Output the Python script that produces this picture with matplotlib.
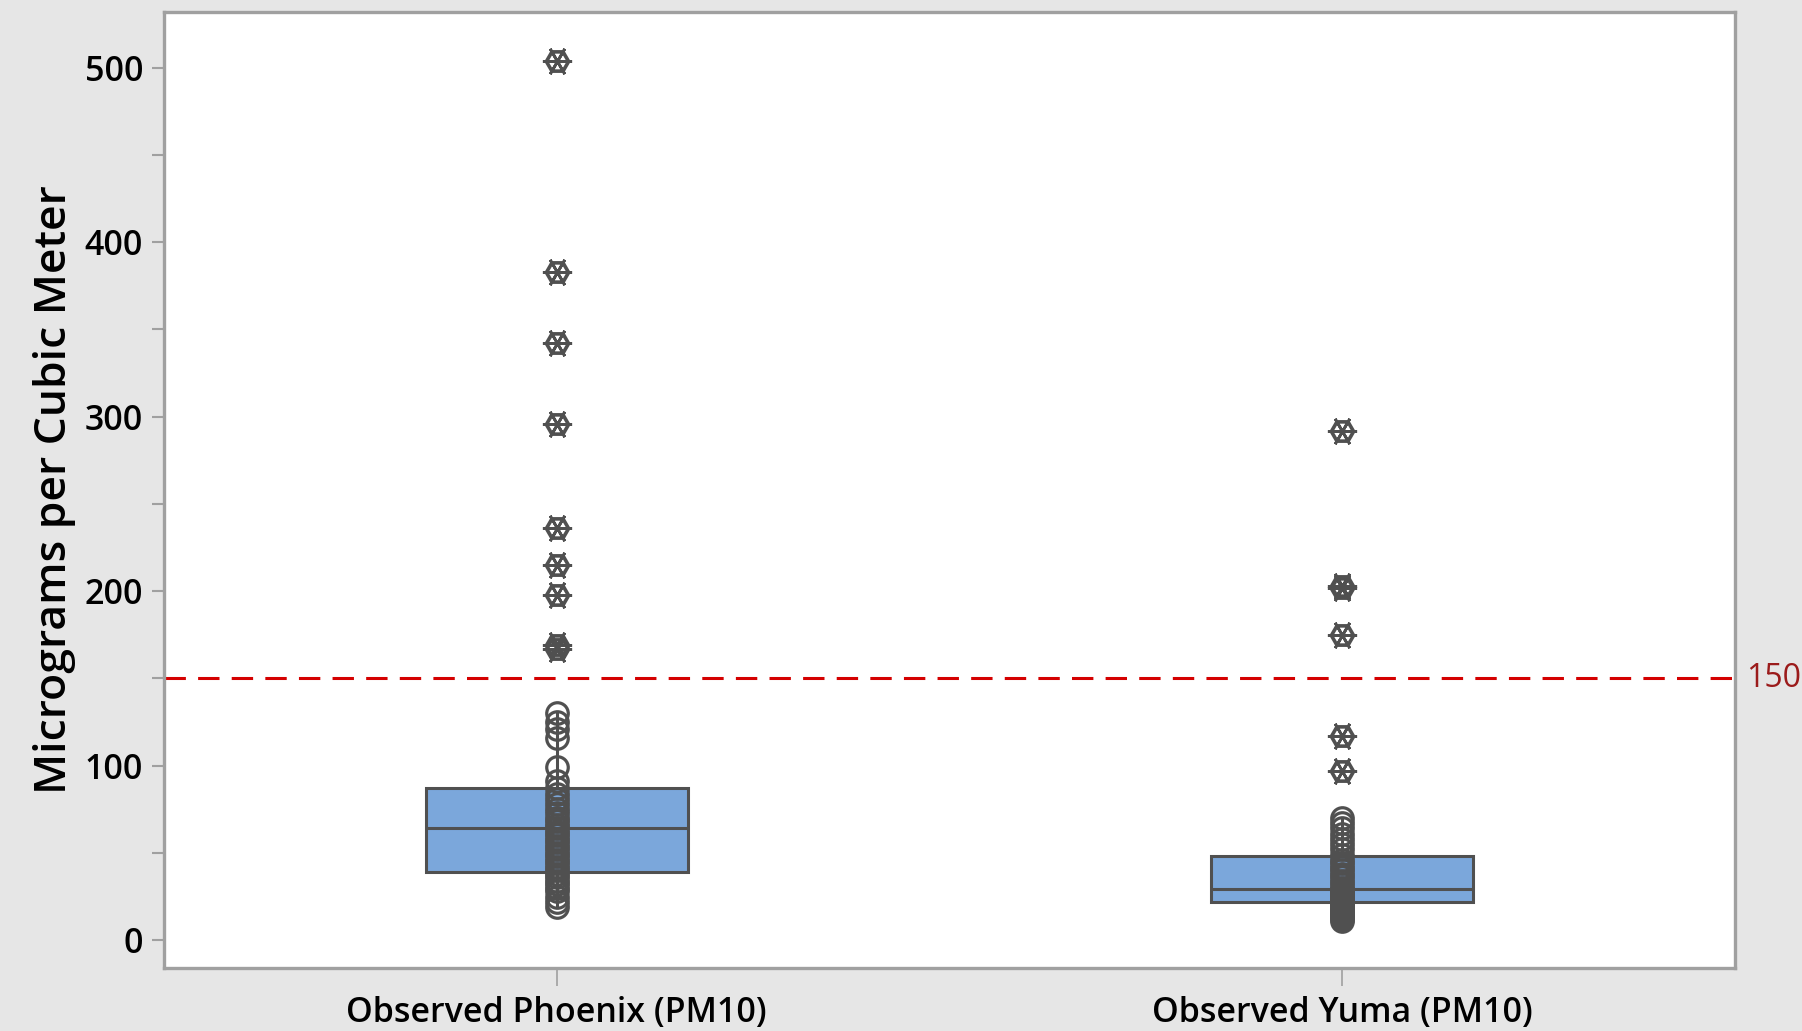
import matplotlib.pyplot as plt

# PM10 readings, micrograms per cubic meter
sites = ['Observed Phoenix (PM10)', 'Observed Yuma (PM10)']

phoenix_vals = [130, 125, 121, 116, 99, 91, 87, 84, 81, 78, 75, 73, 70, 68, 66,
                64, 62, 60, 58, 56, 54, 52, 50, 48, 46, 44, 42, 40, 38, 36, 34,
                32, 30, 28, 25, 22, 19]
phoenix_out = [504, 383, 342, 296, 236, 215, 198, 169, 167]

yuma_vals = [70, 67, 64, 61, 58, 55, 52, 49, 46, 44, 42, 40, 38, 36, 34, 32, 30,
             29, 28, 27, 26, 25, 24, 23, 22, 21, 20, 19, 18, 17, 16, 15, 14, 13,
             12, 11]
yuma_out = [292, 203, 202, 175, 117, 97]

# quartiles and whisker ends
q1 = [39, 22]
med = [64.5, 29.5]
q3 = [87, 48.5]
whis_lo = [19, 11]
whis_hi = [130, 70]

limit = 150

plt.rcParams['font.family'] = ['Open Sans', 'DejaVu Sans']

fig = plt.figure(figsize=(18.02, 10.31), dpi=100, facecolor='#e6e6e6')
ax = fig.add_axes([0.091, 0.061, 0.8718, 0.9277])
ax.set_facecolor('white')

edge = '#505050'
stats = []
for i in range(2):
    stats.append({'q1': q1[i], 'med': med[i], 'q3': q3[i],
                  'whislo': whis_lo[i], 'whishi': whis_hi[i], 'fliers': []})
ax.bxp(stats, positions=[1, 2], widths=0.334, patch_artist=True,
       showcaps=False, showfliers=False,
       boxprops=dict(facecolor='#7ba7db', edgecolor=edge, linewidth=2.2),
       medianprops=dict(color=edge, linewidth=2.2),
       whiskerprops=dict(color=edge, linewidth=2.2), zorder=2)

# individual observations
for pos, vals in zip([1, 2], [phoenix_vals, yuma_vals]):
    ax.plot([pos] * len(vals), vals, 'o', ms=15.5, mfc='none', mec=edge,
            mew=2.3, zorder=3)

# outliers: hexagon with asterisk
for pos, vals in zip([1, 2], [phoenix_out, yuma_out]):
    ax.plot([pos] * len(vals), vals, 'H', ms=16, mfc='none', mec=edge,
            mew=2.6, zorder=3)
    ax.plot([pos] * len(vals), vals, marker=(6, 2, 90), ls='none', ms=21,
            mec=edge, mew=2.0, zorder=3)

ax.axhline(limit, color='#d40000', ls=(0, (7, 4)), lw=2.2, zorder=1)
ax.annotate(str(limit), xy=(1, limit), xycoords=('axes fraction', 'data'),
            xytext=(8, 0), textcoords='offset points', va='center', ha='left',
            fontsize=23, color='#9b1b1b', annotation_clip=False)

ax.set_xlim(0.5, 2.5)
ax.set_ylim(-16, 532)
ax.set_xticks([1, 2])
ax.set_xticklabels(sites, fontsize=24.5, fontweight='semibold')
ax.set_yticks(range(0, 501, 100))
ax.set_yticks(range(50, 500, 100), minor=True)
ax.tick_params(axis='y', labelsize=24.5, length=9, width=1.5, color='#a0a0a0', pad=6)
ax.tick_params(axis='y', which='minor', length=9, width=1.5, color='#a0a0a0')
ax.tick_params(axis='x', length=13, width=1.2, color='#a0a0a0', pad=7)
for lab in ax.get_yticklabels():
    lab.set_fontweight('semibold')
ax.set_ylabel('Micrograms per Cubic Meter', fontsize=32, fontweight='semibold',
              labelpad=6)

for s in ax.spines.values():
    s.set_color('#a0a0a0')
    s.set_linewidth(2.4)

fig.savefig('out.png', dpi=100, facecolor=fig.get_facecolor())
